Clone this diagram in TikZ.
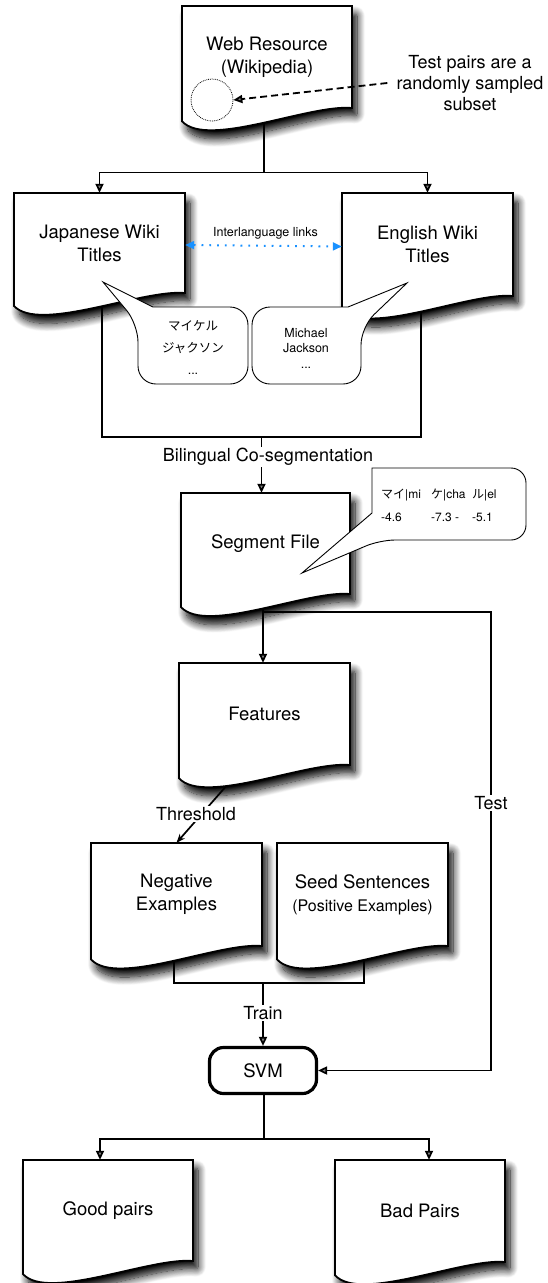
\documentclass[tikz,border=0pt]{standalone}
\usepackage{fontspec}
\setmainfont{TeX Gyre Heros}
\newfontfamily\jpfont{Noto Sans CJK JP}
\usetikzlibrary{arrows.meta,shadows.blur,calc}
\pgfdeclarelayer{bg}
\pgfsetlayers{bg,main}
\definecolor{linkblue}{RGB}{25,145,255}
\newcommand\wdoc[6]{%
  \path[docpath] (#2,#3) -- (#4,#3) -- (#4,#5)
    .. controls ({#4-0.25*(#4-#2)},{#5-0.04*(#5-#3)}) and ({#2+0.15*(#4-#2)},{#5+0.40*(#5-#3)}) .. ({#2},{#5+0.13*(#5-#3)}) -- cycle;
  \node[doctext, minimum width={(#4-#2)*1pt}, minimum height={(#5-#3)*1pt}] (#1) at ({(#2+#4)/2},{(#3+#5)/2}) {#6};
}
\begin{document}
\begin{tikzpicture}[x=1pt,y=-1pt,
  docpath/.style={draw=black, line width=1.8pt, fill=white, line join=miter,
    blur shadow={shadow xshift=5pt, shadow yshift=-8pt, shadow blur radius=8pt, shadow blur steps=12, shadow opacity=100, shadow blur extra rounding=2pt}},
  doctext/.style={inner sep=0pt, align=center, font=\fontsize{18.5}{23}\selectfont},
  conn/.style={line width=1.7pt},
  arr/.style={conn, -{Triangle[length=9pt,width=8pt]}},
  lab/.style={fill=white, inner sep=1.5pt, font=\fontsize{18}{21}\selectfont},
  bubble/.style={draw, fill=white, line width=0.9pt},
  btext/.style={align=center, inner sep=0pt},
  svmbox/.style={draw, line width=3.2pt, rounded corners=14pt, minimum width=107pt, minimum height=46pt, font=\fontsize{18.5}{22}\selectfont},
]
\useasboundingbox (0,0) rectangle (548,1283);

% documents
\wdoc{web}{182}{6}{352}{108}{Web Resource\\(Wikipedia)}
\wdoc{jp}{14}{193}{185}{293}{Japanese Wiki\\Titles}
\wdoc{en}{342}{193}{513}{296}{English Wiki\\Titles}
\wdoc{seg}{181}{493}{350}{594}{Segment File}
\wdoc{feat}{179}{663}{350}{765}{Features}
\wdoc{neg}{91}{843}{262}{946}{Negative\\Examples}
\wdoc{seed}{277}{843}{448}{946}{Seed Sentences\\{\fontsize{16}{19}\selectfont(Positive Examples)}}
\wdoc{good}{23}{1160}{193}{1261}{Good pairs}
\wdoc{bad}{335}{1160}{505}{1262}{Bad Pairs}

\node[svmbox] (svm) at (263,1070.5) {SVM};

% web resource annotation
\node[circle, draw, densely dotted, line width=0.8pt, minimum size=42pt, inner sep=0pt] (circ) at (212,100) {};
\node[align=center, inner sep=0pt, font=\fontsize{18}{21}\selectfont] (note) at (470,83) {Test pairs are a\\randomly sampled\\subset};
\draw[line width=1.8pt, dash pattern=on 7pt off 4pt, -{Triangle[length=9pt,width=8pt]}] ([xshift=-9pt]note.west) -- (circ.east);

% interlanguage links
\draw[linkblue, line width=2pt, dash pattern=on 1.8pt off 6pt, {Triangle[length=9pt,width=8pt]}-{Triangle[length=9pt,width=8pt]}] ([yshift=-2pt]jp.east) -- ([yshift=-2pt]en.west);
\node[font=\fontsize{12.5}{15}\selectfont, inner sep=0pt] (ill) at (265.5,233) {Interlanguage links};

% bubbles
\draw[bubble] (193,307) [rounded corners=18pt] -- (248,307) -- (248,384) -- (138,384) -- (138,324) [sharp corners] -- (103,282) -- (153,307) -- cycle;
\node[btext, font=\fontsize{12.5}{22}\selectfont] (jpbt) at (193,348) {{\jpfont マイケル}\\{\jpfont ジャクソン}\\...};
\draw[bubble] (300,307) [rounded corners=18pt] -- (252,307) -- (252,384) -- (361,384) -- (361,327) [sharp corners] -- (407,283) -- (348,307) -- cycle;
\node[btext, font=\fontsize{12.5}{15.5}\selectfont] (enbt) at (306,348) {Michael\\Jackson\\...};
\draw[bubble] (449,468) [rounded corners=15pt] -- (526,468) -- (526,540) -- (380,540) [sharp corners] -- (302,573) -- (372,513) -- (372,468) [rounded corners=15pt] -- cycle;
\node[align=left, anchor=west, inner sep=0pt, font=\fontsize{12}{23}\selectfont] (segbt) at (381,505)
  {\makebox[50pt][l]{{\jpfont マイ}|mi}\makebox[41pt][l]{{\jpfont ケ}|cha}{\jpfont ル}|el\\
   \makebox[50pt][l]{-4.6}\makebox[41pt][l]{-7.3 -}-5.1};

% labels
\node[lab] (bil) at (268,457) {Bilingual Co-segmentation};
\node[lab] (thr) at (196,814) {Threshold};
\node[lab] (tst) at (491,803) {Test};
\node[lab] (trn) at (263,1013) {Train};

\begin{pgfonlayer}{bg}
\coordinate (s1) at (264,172.5);
\draw[conn] (web.south -| s1) -- (s1);
\draw[arr] (s1) -| (jp.north);
\draw[arr] (s1) -| (en.north);

\coordinate (b1) at (261.5,437);
\draw[conn] ([xshift=2.5pt]jp.south) |- (b1) -| ([xshift=-6.5pt]en.south);
\draw[arr] (b1) -- (b1 |- seg.north);

\coordinate (t1) at (263,612);
\coordinate (t2) at (491,612);
\draw[conn] (seg.south -| t1) -- (t1);
\draw[arr] (t1) -- (t1 |- feat.north);
\draw[arr] (t1) -- (t2) |- (svm.east);

\coordinate (th) at (228,784);
\draw[conn, -{Stealth[length=9pt,width=7pt]}] (th) -- (neg.north);

\coordinate (tr) at (263,983);
\draw[conn] ([xshift=-2.5pt]neg.south) |- (tr) -| ([xshift=1.5pt]seed.south);
\draw[arr] (tr) -- (svm.north);

\coordinate (g1) at (264,1139);
\draw[conn] (svm.south -| g1) -- (g1);
\draw[arr] (g1) -| ([xshift=-8pt]good.north);
\draw[arr] (g1) -| ([xshift=9pt]bad.north);
\end{pgfonlayer}
\end{tikzpicture}
\end{document}
